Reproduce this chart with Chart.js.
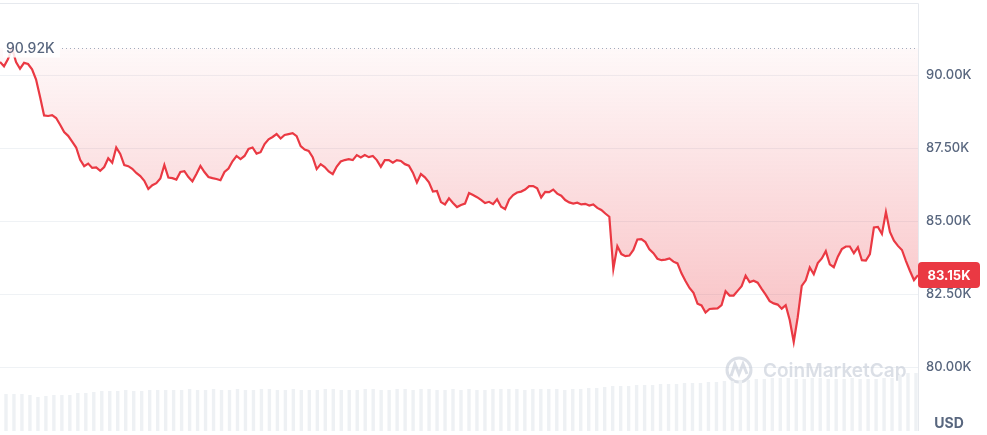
<!DOCTYPE html>
<html>
<head>
<meta charset="utf-8">
<script src="https://cdn.jsdelivr.net/npm/chart.js@4"></script>
<style>
  html, body { margin: 0; padding: 0; background: #fff; }
  #wrap { width: 987px; height: 435px; position: relative; }
</style>
</head>
<body>
<div id="wrap"><canvas id="priceChart"></canvas></div>
<script>
// BTC price, 7D view (thousands of USD)
const openPrice = 90.92;
const lastPrice = 83.15;
const tickValues = [80, 82.5, 85, 87.5, 90];

const prices = [
  90.45, 90.30, 90.55, 90.92, 90.45, 90.22, 90.42, 90.38, 90.20, 89.85,
  89.25, 88.62, 88.60, 88.63, 88.53, 88.30, 88.05, 87.92, 87.72, 87.52,
  87.10, 86.88, 86.97, 86.82, 86.84, 86.72, 86.85, 87.15, 87.00, 87.52,
  87.30, 86.92, 86.88, 86.79, 86.65, 86.54, 86.38, 86.10, 86.23, 86.30,
  86.46, 86.92, 86.49, 86.47, 86.42, 86.68, 86.71, 86.51, 86.36, 86.61,
  86.89, 86.68, 86.51, 86.47, 86.44, 86.40, 86.68, 86.80, 87.05, 87.23,
  87.12, 87.23, 87.47, 87.52, 87.31, 87.36, 87.64, 87.80, 87.88, 87.98,
  87.83, 87.95, 87.98, 88.01, 87.91, 87.57, 87.45, 87.40, 87.19, 86.78,
  86.95, 86.85, 86.70, 86.61, 86.87, 87.04, 87.09, 87.12, 87.09, 87.26,
  87.18, 87.26, 87.19, 87.23, 87.09, 86.86, 87.09, 87.09, 87.00, 87.09,
  87.06, 86.95, 86.90, 86.66, 86.32, 86.61, 86.50, 86.33, 86.01, 86.03,
  85.65, 85.57, 85.78, 85.62, 85.48, 85.55, 85.60, 85.96, 85.89, 85.82,
  85.73, 85.62, 85.66, 85.58, 85.75, 85.49, 85.41, 85.74, 85.89, 85.98,
  86.01, 86.08, 86.20, 86.20, 86.12, 85.81, 86.00, 85.99, 86.08, 85.94,
  85.87, 85.72, 85.64, 85.60, 85.63, 85.57, 85.59, 85.53, 85.57, 85.45,
  85.38, 85.26, 85.15, 83.36, 84.14, 83.87, 83.80, 83.82, 84.01, 84.37,
  84.38, 84.28, 84.03, 83.90, 83.71, 83.66, 83.68, 83.72, 83.61, 83.55,
  83.21, 82.95, 82.71, 82.54, 82.17, 82.11, 81.87, 81.99, 82.00, 82.01,
  82.12, 82.60, 82.45, 82.45, 82.61, 82.77, 83.13, 82.91, 82.96, 82.89,
  82.68, 82.48, 82.26, 82.18, 82.14, 82.00, 82.12, 81.61, 80.86, 81.71,
  82.78, 82.97, 83.41, 83.18, 83.56, 83.72, 83.97, 83.52, 83.42, 83.78,
  84.04, 84.13, 84.13, 83.90, 84.10, 83.66, 83.65, 83.87, 84.78, 84.80,
  84.56, 85.31, 84.63, 84.33, 84.15, 84.01, 83.63, 83.29, 82.98, 83.15
];

// 24h volume, billions of USD
const volumes = [
  37, 37, 37, 36, 34, 35, 36, 36, 36, 38, 38, 39,
  40, 40, 40, 41, 40, 40, 41, 41, 41,
  41, 41, 42, 41, 41, 42, 41, 41, 42, 41,
  41, 42, 42, 41, 41, 42, 41, 41, 41, 42,
  42, 41, 41, 41, 42, 42, 41, 41, 42, 42,
  41, 42, 42, 41, 41, 42, 41, 42, 41, 41, 42, 42,
  42, 42, 41, 42, 42, 42, 42, 41, 42, 42, 43, 43, 44,
  45, 45, 45, 46, 46, 46, 47, 47, 47, 48, 48, 48,
  49, 49, 50, 50, 51, 51, 52,
  52, 53, 53, 53, 52, 52, 53, 53,
  52, 52, 52, 53, 52, 52, 52, 53, 53,
  56, 58, 58
];

const priceLabels = prices.map((_, i) => i);
const volumeLabels = volumes.map((_, i) => i);

const RED = '#ea3943';
const TEXT = '#58667e';
const GRID = '#eff2f5';

const overlayPlugin = {
  id: 'overlay',
  beforeDatasetsDraw(chart) {
    const { ctx } = chart;
    // watermark
    ctx.save();
    ctx.globalAlpha = 0.6;
    ctx.strokeStyle = '#c3cad5';
    ctx.lineWidth = 3;
    ctx.beginPath();
    ctx.arc(739, 370, 12, 0, Math.PI * 2);
    ctx.stroke();
    ctx.beginPath();
    ctx.moveTo(731, 376);
    ctx.lineTo(735, 364);
    ctx.lineTo(739, 374);
    ctx.lineTo(743, 364);
    ctx.lineTo(747, 374);
    ctx.stroke();
    ctx.fillStyle = '#c3cad5';
    ctx.font = '600 19px Inter';
    ctx.textBaseline = 'middle';
    ctx.fillText('CoinMarketCap', 763, 371);
    ctx.restore();
  },
  afterDatasetsDraw(chart) {
    const { ctx, chartArea, scales } = chart;
    const y = scales.y;
    ctx.save();
    // frame top + right
    ctx.strokeStyle = '#e6e9ee';
    ctx.lineWidth = 1;
    ctx.beginPath();
    ctx.moveTo(chartArea.left, chartArea.top + 0.5);
    ctx.lineTo(chartArea.right + 0.5, chartArea.top + 0.5);
    ctx.lineTo(chartArea.right + 0.5, chartArea.bottom);
    ctx.stroke();

    // open price dotted line + label
    const oy = Math.round(y.getPixelForValue(openPrice)) + 0.5;
    ctx.strokeStyle = '#a1abbd';
    ctx.setLineDash([1, 3]);
    ctx.beginPath();
    ctx.moveTo(62, oy);
    ctx.lineTo(chartArea.right, oy);
    ctx.stroke();
    ctx.setLineDash([]);
    ctx.fillStyle = 'rgba(255,255,255,0.85)';
    ctx.fillRect(3, oy - 9, 57, 18);
    ctx.fillStyle = TEXT;
    ctx.font = '500 14px Inter';
    ctx.textBaseline = 'middle';
    ctx.textAlign = 'left';
    ctx.fillText(openPrice.toFixed(2) + 'K', 6, oy);

    // last price badge
    const ly = y.getPixelForValue(lastPrice);
    ctx.fillStyle = RED;
    ctx.beginPath();
    ctx.roundRect(chartArea.right, ly - 13, 62, 26, 4);
    ctx.fill();
    ctx.fillStyle = '#fff';
    ctx.font = '700 13px Inter';
    ctx.textAlign = 'center';
    ctx.fillText(lastPrice.toFixed(2) + 'K', chartArea.right + 31, ly + 0.5);

    // currency label
    ctx.fillStyle = TEXT;
    ctx.font = '700 14px Inter';
    ctx.fillText('USD', 949, 424);
    ctx.restore();
  }
};

const chartCtx = document.getElementById('priceChart');
new Chart(chartCtx, {
  data: {
    labels: priceLabels,
    datasets: [{
      type: 'line',
      data: prices,
      xAxisID: 'x',
      yAxisID: 'y',
      borderColor: RED,
      borderWidth: 2.2,
      pointRadius: 0,
      tension: 0,
      order: 0,
      fill: { value: openPrice },
      backgroundColor: function(context) {
        const chart = context.chart;
        const { ctx, chartArea, scales } = chart;
        if (!chartArea) return 'rgba(234,57,67,0.1)';
        const top = scales.y.getPixelForValue(openPrice);
        const bottom = scales.y.getPixelForValue(Math.min(...prices));
        const g = ctx.createLinearGradient(0, top, 0, bottom);
        g.addColorStop(0, 'rgba(234,57,67,0.03)');
        g.addColorStop(1, 'rgba(234,57,67,0.32)');
        return g;
      }
    }, {
      type: 'bar',
      data: volumes,
      xAxisID: 'xv',
      yAxisID: 'yv',
      backgroundColor: '#eef1f4',
      barPercentage: 0.85,
      categoryPercentage: 1,
      order: 1
    }]
  },
  options: {
    responsive: true,
    maintainAspectRatio: false,
    animation: false,
    layout: { padding: { top: 3, bottom: 4, left: 0, right: 0 } },
    plugins: {
      legend: { display: false },
      tooltip: { enabled: false }
    },
    scales: {
      x: {
        type: 'category',
        display: false,
        offset: false
      },
      xv: {
        type: 'category',
        labels: volumeLabels,
        display: false,
        offset: true
      },
      y: {
        position: 'right',
        min: 77.81,
        max: 92.47,
        afterBuildTicks: function(scale) {
          scale.ticks = tickValues.map(v => ({ value: v }));
        },
        afterFit: function(scale) {
          scale.width = 69;
          scale.paddingTop = 0;
          scale.paddingBottom = 0;
        },
        grid: { color: GRID, drawTicks: false },
        border: { display: false },
        ticks: {
          padding: 8,
          color: TEXT,
          font: { family: 'Inter', size: 13, weight: '500' },
          callback: function(value) {
            return Number(value).toFixed(2) + 'K';
          }
        }
      },
      yv: {
        display: false,
        min: 0,
        max: 428
      }
    }
  },
  plugins: [overlayPlugin]
});
</script>
</body>
</html>
